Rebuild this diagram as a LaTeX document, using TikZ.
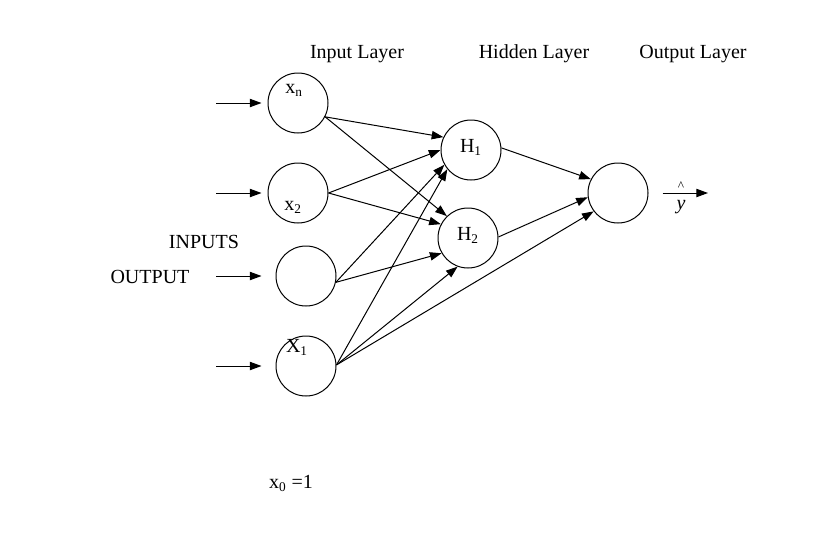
\documentclass[tikz,border=0pt]{standalone}
\usepackage{fontspec}
\setmainfont{Liberation Serif}
\usetikzlibrary{arrows.meta}
\begin{document}
\begin{tikzpicture}[x=0.6pt,y=-0.6pt,
                neuron/.style={circle,draw=black,line width=0.6pt,
                inner sep=0pt,minimum size=36pt},
                arr/.style={-{Triangle[length=7pt,width=5pt]},line width=0.6pt},
                txt/.style={inner sep=0pt,anchor=base,font=\fontsize{12}{14}\selectfont}]
                \useasboundingbox (0,0) rectangle (826,542);
                % neurons
                \node (xn) at (298,103) [neuron] {};
                \node (x2) at (298,193) [neuron] {};
                \node (x3) at (306,276) [neuron] {};
                \node (x1) at (306,366) [neuron] {};
                \node (h1) at (471,150) [neuron] {};
                \node (h2) at (468,238) [neuron] {};
                \node (out) at (618,193) [neuron] {};
                % labels
                \node (lxn) at (294,93) [txt] {x\textsubscript{n}};
                \node (lx2) at (293,210) [txt] {x\textsubscript{2}};
                \node (lx1) at (297,352) [txt] {X\textsubscript{1}};
                \node (lh1) at (471,152) [txt] {H\textsubscript{1}};
                \node (lh2) at (468,240) [txt] {H\textsubscript{2}};
                \node (lin) at (357,58) [txt] {Input Layer};
                \node (lhid) at (534,58) [txt] {Hidden Layer};
                \node (lout) at (693,58) [txt] {Output Layer};
                \node (inputs) at (204,248) [txt] {INPUTS};
                \node (output) at (150,283) [txt] {OUTPUT};
                \node (bias) at (291,488) [txt] {x\textsubscript{0} =1};
                \node (hat) at (681,190) [txt,font=\fontsize{8}{9}\selectfont] {\textasciicircum};
                \node (yhat) at (681,209) [txt] {\textit{y}};
                % free ends
                \coordinate (in1) at (216,103);
                \coordinate (in2) at (216,193);
                \coordinate (in3) at (216,276);
                \coordinate (in4) at (216,366);
                \coordinate (yo) at (708,193);
                \draw (in1) edge[arr,shorten >=3.6pt] (xn);
                \draw (in2) edge[arr,shorten >=3.6pt] (x2);
                \draw (in3) edge[arr,shorten >=8.4pt] (x3);
                \draw (in4) edge[arr,shorten >=8.4pt] (x1);
                \draw (xn.-27) edge[arr] (h1.155);
                \draw (xn.-27) edge[arr] (h2.134);
                \draw (x2.0) edge[arr] (h1.180);
                \draw (x2.0) edge[arr] (h2.153);
                \draw (x3.-12) edge[arr] (h1.209);
                \draw (x3.-12) edge[arr] (h2.210);
                \draw (x1.2) edge[arr] (h1.219);
                \draw (x1.2) edge[arr] (h2.250);
                \draw (x1.2) edge[arr] (out.217);
                \draw (h1.4) edge[arr] (out.153);
                \draw (h2.2) edge[arr] (out.188);
                \draw (out) edge[arr,shorten <=8.4pt] (yo);
            \end{tikzpicture}
\end{document}
